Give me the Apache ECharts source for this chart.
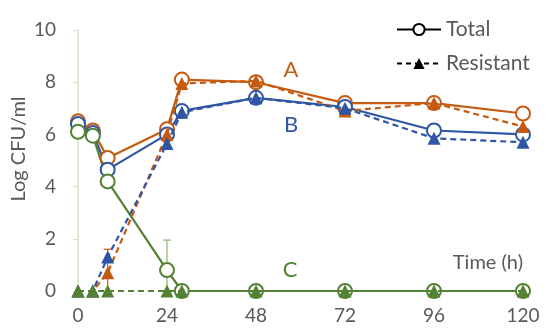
<!DOCTYPE html>
<html><head><meta charset="utf-8">
<script src="https://cdn.jsdelivr.net/npm/echarts@6/dist/echarts.min.js"></script>
<style>html,body{margin:0;padding:0;background:#fff}#c{width:550px;height:335px}</style>
</head><body><div id="c"></div>
<script>
const hours = [0, 4, 8, 24, 28, 48, 72, 96, 120];
const aTotal = [6.5, 6.15, 5.1, 6.2, 8.1, 8.0, 7.2, 7.2, 6.8];
const aResistant = [0, 0, 0.7, 6.0, 7.95, 8.05, 6.9, 7.2, 6.3];
const bTotal = [6.4, 6.05, 4.65, 6.0, 6.9, 7.4, 7.05, 6.15, 6.0];
const bResistant = [0, 0, 1.3, 5.65, 6.85, 7.4, 7.0, 5.85, 5.7];
const cTotal = [6.1, 5.95, 4.2, 0.8, 0, 0, 0, 0, 0];
const cResistant = [0, 0, 0, 0, 0, 0, 0, 0, 0];
const errA = [[8, 0, 1.6]];
const errC = [[24, 0, 1.95]];
const xTicks = [0, 24, 48, 72, 96, 120];

const ORANGE = '#C55A11', BLUE = '#2F55A5', GREEN = '#548235', GRAY = '#595959';
const FONT = 'Lato';
const pair = arr => hours.map((h, i) => [h, arr[i]]);

function totalSeries(name, color, data) {
  return { name, type: 'line', data: pair(data), symbol: 'emptyCircle', symbolSize: 14,
    lineStyle: { color, width: 2.2 }, itemStyle: { color, borderColor: color, borderWidth: 1.6 },
    emphasis: { disabled: true }, animation: false, z: 3 };
}
function resSeries(name, color, data) {
  return { name, type: 'line', data: pair(data), symbol: 'triangle', symbolSize: 13,
    lineStyle: { color, width: 2.2, type: [6, 4] }, itemStyle: { color },
    emphasis: { disabled: true }, animation: false, z: 4 };
}
function errSeries(color, data) {
  return { type: 'custom', data, animation: false, z: 2,
    renderItem(params, api) {
      const x = api.value(0), lo = api.value(1), hi = api.value(2);
      const p1 = api.coord([x, lo]), p2 = api.coord([x, hi]);
      return { type: 'group', children: [
        { type: 'line', shape: { x1: p1[0], y1: p1[1], x2: p2[0], y2: p2[1] }, style: { stroke: color, lineWidth: 1.2 } },
        { type: 'line', shape: { x1: p2[0] - 4, y1: p2[1], x2: p2[0] + 4, y2: p2[1] }, style: { stroke: color, lineWidth: 1.2 } }
      ] };
    } };
}

const chart = echarts.init(document.getElementById('c'));
chart.setOption({
  animation: false,
  grid: { left: 78, right: 27, top: 30, bottom: 44 },
  xAxis: { type: 'value', min: 0, max: 120, interval: 24,
    axisLine: { show: false }, axisTick: { show: false }, splitLine: { show: false },
    axisLabel: { color: GRAY, fontFamily: FONT, fontSize: 19, margin: 15,
      formatter: v => xTicks.includes(v) ? String(v) : '' } },
  yAxis: { type: 'value', min: 0, max: 10, interval: 2,
    axisLine: { show: true, lineStyle: { color: '#D5E3C6', width: 1.5 } },
    axisTick: { show: true, length: 5, lineStyle: { color: '#D5E3C6' } },
    splitLine: { show: false },
    axisLabel: { color: GRAY, fontFamily: FONT, fontSize: 19, margin: 22 } },
  legend: { orient: 'vertical', left: 391, top: 14, itemGap: 13, itemWidth: 44, itemHeight: 14,
    data: ['Total', 'Resistant'], selectedMode: false,
    textStyle: { color: GRAY, fontFamily: FONT, fontSize: 21 } },
  graphic: [
    { type: 'text', x: 19, y: 149, rotation: Math.PI / 2, style: { text: 'Log CFU/ml', fill: GRAY, font: '20px Lato', align: 'center', verticalAlign: 'middle' } },
    { type: 'text', x: 291, y: 70, style: { text: 'A', fill: ORANGE, font: '22px Lato', align: 'center', verticalAlign: 'middle' } },
    { type: 'text', x: 291, y: 125, style: { text: 'B', fill: BLUE, font: '22px Lato', align: 'center', verticalAlign: 'middle' } },
    { type: 'text', x: 290, y: 270, style: { text: 'C', fill: GREEN, font: '22px Lato', align: 'center', verticalAlign: 'middle' } },
    { type: 'text', x: 523, y: 263, style: { text: 'Time (h)', fill: GRAY, font: '20px Lato', align: 'right', verticalAlign: 'middle' } }
  ],
  series: [
    errSeries(ORANGE, errA),
    errSeries('#8DB46A', errC),
    totalSeries('A Total', ORANGE, aTotal),
    totalSeries('B Total', BLUE, bTotal),
    resSeries('A Resistant', ORANGE, aResistant),
    resSeries('B Resistant', BLUE, bResistant),
    resSeries('C Resistant', GREEN, cResistant),
    totalSeries('C Total', GREEN, cTotal),
    { name: 'Total', type: 'line', data: [], symbol: 'emptyCircle', symbolSize: 12,
      lineStyle: { color: '#000', width: 2.5 }, itemStyle: { color: '#000', borderColor: '#000' } },
    { name: 'Resistant', type: 'line', data: [], symbol: 'triangle', symbolSize: 12,
      lineStyle: { color: '#000', width: 2.5, type: [5, 4] }, itemStyle: { color: '#000' } }
  ]
});
</script></body></html>
